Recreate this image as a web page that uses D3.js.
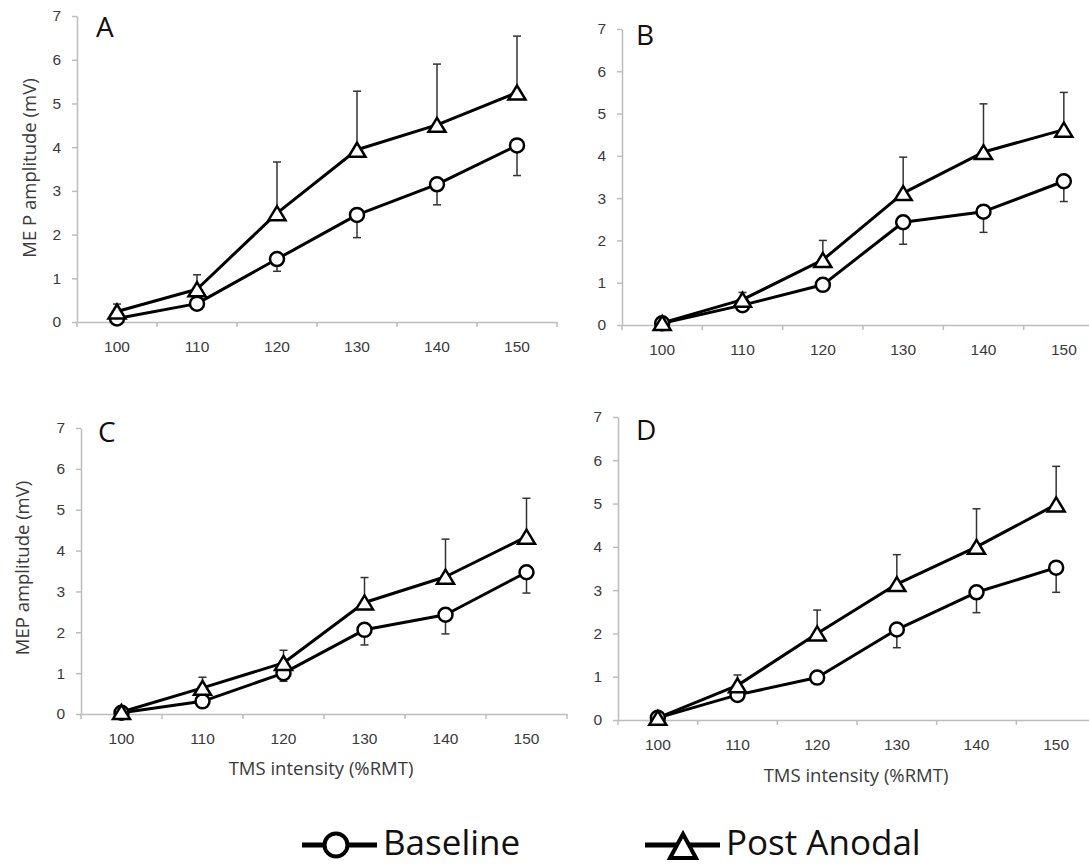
<!DOCTYPE html>
<html>
<head>
<meta charset="utf-8">
<script src="https://cdn.jsdelivr.net/npm/d3@7"></script>
<style>
  body { margin: 0; background: #fff; }
  svg { display: block; font-family: "Open Sans", sans-serif; }
</style>
</head>
<body>
<script>
// categories and tick values
var intensity = ["100", "110", "120", "130", "140", "150"];
var yTicks = [0, 1, 2, 3, 4, 5, 6, 7];

// panel A
var baselineA = [0.08, 0.42, 1.44, 2.45, 3.15, 4.04],
    baselineErrA = [0, 0, 0.28, 0.52, 0.47, 0.69],
    postA = [0.24, 0.75, 2.49, 3.94, 4.51, 5.25],
    postErrA = [0.17, 0.33, 1.17, 1.34, 1.39, 1.29];

// panel B
var baselineB = [0.04, 0.47, 0.95, 2.43, 2.68, 3.40],
    baselineErrB = [0, 0, 0, 0.52, 0.49, 0.48],
    postB = [0.05, 0.60, 1.54, 3.12, 4.09, 4.62],
    postErrB = [0.03, 0.17, 0.46, 0.85, 1.14, 0.88];

// panel C
var baselineC = [0.03, 0.31, 1.00, 2.06, 2.43, 3.47],
    baselineErrC = [0, 0, 0.20, 0.37, 0.47, 0.51],
    postC = [0.05, 0.64, 1.25, 2.73, 3.36, 4.34],
    postErrC = [0.03, 0.26, 0.31, 0.61, 0.92, 0.94];

// panel D
var baselineD = [0.05, 0.58, 0.98, 2.09, 2.95, 3.52],
    baselineErrD = [0, 0, 0, 0.42, 0.47, 0.57],
    postD = [0.05, 0.80, 2.00, 3.14, 4.00, 4.98],
    postErrD = [0.03, 0.24, 0.54, 0.68, 0.88, 0.88];

var seriesNames = ["Baseline", "Post Anodal"];

// set canvas
var svg = d3.select("body").append("svg")
    .attr("width", 1089)
    .attr("height", 865);

var axisColor = "#bdbdbd",
    labelColor = "#3a3a3a";

// panel layout
var panels = [
  {letter: "A", base: baselineA, baseErr: baselineErrA, post: postA, postErr: postErrA,
   left: 77, right: 557, top: 16, bottom: 322, letterX: 96, letterY: 37,
   yTitle: "ME P amplitude (mV)", yTitleX: 30, yTitleY: 168},
  {letter: "B", base: baselineB, baseErr: baselineErrB, post: postB, postErr: postErrB,
   left: 622, right: 1104, top: 29, bottom: 325, letterX: 636, letterY: 45},
  {letter: "C", base: baselineC, baseErr: baselineErrC, post: postC, postErr: postErrC,
   left: 81, right: 567, top: 428, bottom: 714, letterX: 98, letterY: 442,
   yTitle: "MEP amplitude (mV)", yTitleX: 23, yTitleY: 568,
   xTitle: "TMS intensity (%RMT)", xTitleX: 321, xTitleY: 775},
  {letter: "D", base: baselineD, baseErr: baselineErrD, post: postD, postErr: postErrD,
   left: 618, right: 1096, top: 417, bottom: 720, letterX: 636, letterY: 440,
   xTitle: "TMS intensity (%RMT)", xTitleX: 856, xTitleY: 782}
];

// triangle centred on its bounding box
function triangle(w, h) {
  return "M0," + (-h / 2) + "L" + (w / 2) + "," + (h / 2) + "L" + (-w / 2) + "," + (h / 2) + "Z";
}

panels.forEach(function(p) {
  var g = svg.append("g");

  var x = d3.scaleBand().domain(intensity).range([p.left, p.right]),
      y = d3.scaleLinear().domain([0, 7]).range([p.bottom, p.top]);
  var cx = function(d, i) { return x(intensity[i]) + x.bandwidth() / 2; };

  // x axis
  var xAxis = g.append("g")
      .attr("transform", "translate(0," + p.bottom + ")")
      .call(d3.axisBottom(x).tickSize(0).tickSizeOuter(0).tickPadding(19));
  xAxis.select(".domain").attr("stroke", axisColor).attr("stroke-width", 1.5);
  xAxis.selectAll("text").attr("fill", labelColor).style("font-size", "15.5px");

  // tick marks between categories
  var bounds = intensity.map(function(d) { return x(d); }).concat([x.range()[1]]);
  xAxis.selectAll(".btick")
    .data(bounds)
    .enter().append("line")
      .attr("class", "btick")
      .attr("x1", function(d) { return d; })
      .attr("x2", function(d) { return d; })
      .attr("y1", 0)
      .attr("y2", 5)
      .attr("stroke", axisColor)
      .attr("stroke-width", 1.5);

  // y axis
  var yAxis = g.append("g")
      .attr("transform", "translate(" + p.left + ",0)")
      .call(d3.axisLeft(y).tickValues(yTicks).tickFormat(d3.format("d"))
              .tickSize(5).tickSizeOuter(0).tickPadding(11));
  yAxis.select(".domain").attr("stroke", axisColor).attr("stroke-width", 1.5);
  yAxis.selectAll("line").attr("stroke", axisColor).attr("stroke-width", 1.5);
  yAxis.selectAll("text").attr("fill", labelColor).style("font-size", "15.5px");

  // error bars: baseline down, post anodal up
  var bars = [
    {vals: p.base, errs: p.baseErr, dir: -1},
    {vals: p.post, errs: p.postErr, dir: 1}
  ];
  bars.forEach(function(b) {
    var eb = g.append("g").attr("stroke", "#333").attr("stroke-width", 1.5);
    b.vals.forEach(function(v, i) {
      if (!b.errs[i]) return;
      var xx = cx(v, i), yEnd = y(v + b.dir * b.errs[i]);
      eb.append("line").attr("x1", xx).attr("x2", xx).attr("y1", y(v)).attr("y2", yEnd);
      eb.append("line").attr("x1", xx - 4).attr("x2", xx + 4).attr("y1", yEnd).attr("y2", yEnd);
    });
  });

  // lines
  var line = d3.line()
      .x(function(d, i) { return cx(d, i); })
      .y(function(d) { return y(d); });
  [p.base, p.post].forEach(function(vals) {
    g.append("path")
      .datum(vals)
      .attr("d", line)
      .attr("fill", "none")
      .attr("stroke", "#000")
      .attr("stroke-width", 3)
      .attr("stroke-linejoin", "round");
  });

  // baseline circles
  g.selectAll(".circ")
    .data(p.base)
    .enter().append("circle")
      .attr("cx", cx)
      .attr("cy", function(d) { return y(d); })
      .attr("r", 7)
      .attr("fill", "#fff")
      .attr("stroke", "#000")
      .attr("stroke-width", 2.5);

  // post anodal triangles
  g.selectAll(".tri")
    .data(p.post)
    .enter().append("path")
      .attr("d", triangle(17, 14))
      .attr("transform", function(d, i) { return "translate(" + cx(d, i) + "," + y(d) + ")"; })
      .attr("fill", "#fff")
      .attr("stroke", "#000")
      .attr("stroke-width", 2.5)
      .attr("stroke-linejoin", "miter");

  // panel letter
  g.append("text")
    .attr("x", p.letterX)
    .attr("y", p.letterY)
    .style("font-size", "28px")
    .attr("fill", "#111")
    .text(p.letter);

  // axis titles
  if (p.yTitle) {
    g.append("text")
      .attr("transform", "translate(" + p.yTitleX + "," + p.yTitleY + ") rotate(-90)")
      .attr("text-anchor", "middle")
      .attr("dy", "0.35em")
      .style("font-size", "18.5px")
      .attr("fill", labelColor)
      .text(p.yTitle);
  }
  if (p.xTitle) {
    g.append("text")
      .attr("x", p.xTitleX)
      .attr("y", p.xTitleY)
      .attr("text-anchor", "middle")
      .style("font-size", "18.5px")
      .attr("fill", labelColor)
      .text(p.xTitle);
  }
});

// legend
var legend = svg.append("g");
var legendX = [302, 645];
seriesNames.forEach(function(name, i) {
  var lg = legend.append("g").attr("transform", "translate(" + legendX[i] + ",845)");
  lg.append("line")
    .attr("x1", 0).attr("x2", 75)
    .attr("y1", 0).attr("y2", 0)
    .attr("stroke", "#000")
    .attr("stroke-width", 5);
  if (i === 0) {
    lg.append("circle")
      .attr("cx", 34).attr("cy", 0).attr("r", 11.5)
      .attr("fill", "#fff").attr("stroke", "#000").attr("stroke-width", 4);
  } else {
    lg.append("path")
      .attr("d", triangle(26, 24))
      .attr("transform", "translate(38,1)")
      .attr("fill", "#fff").attr("stroke", "#000").attr("stroke-width", 4);
  }
  lg.append("text")
    .attr("x", 81)
    .attr("y", 10)
    .style("font-size", "35px")
    .attr("fill", "#111")
    .text(name);
});
</script>
</body>
</html>
